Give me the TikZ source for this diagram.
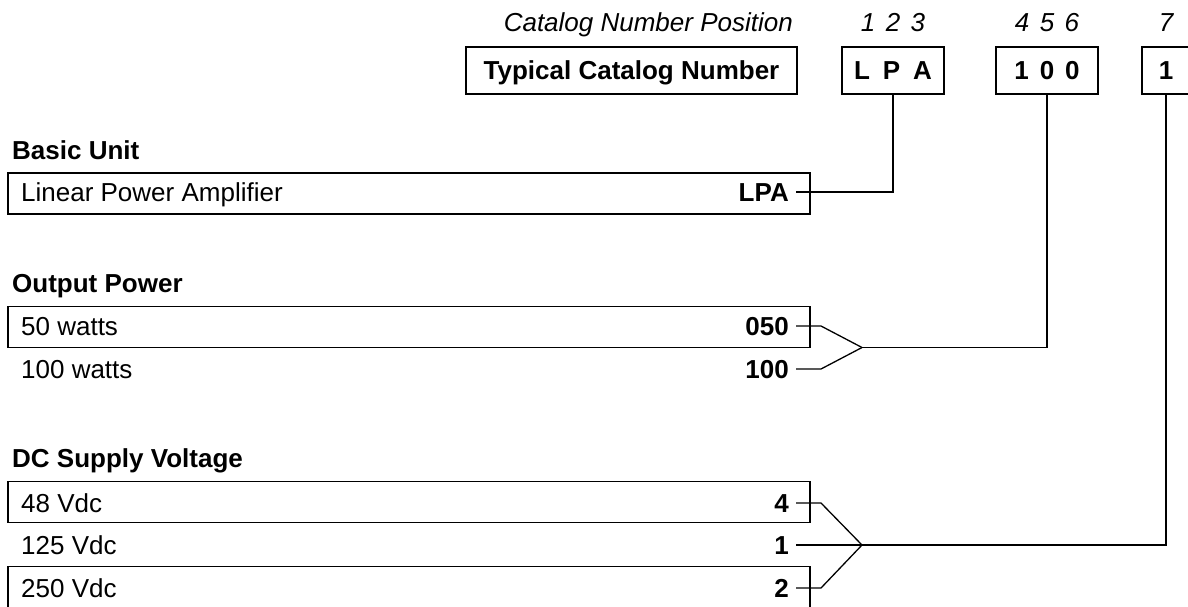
\documentclass[tikz,border=0pt]{standalone}
\usepackage{fontspec}
\setmainfont{Liberation Sans}
\usetikzlibrary{positioning,calc}

\begin{document}
\begin{tikzpicture}[
  x=1pt, y=-1pt,
  txt/.style={inner sep=0pt, text height=18.6pt, text depth=0pt, font=\fontsize{26}{30}\selectfont},
  heading/.style={txt, anchor=south west, font=\fontsize{26}{30}\selectfont\bfseries},
  posnum/.style={txt, font=\fontsize{26}{30}\selectfont\itshape},
  catbox/.style={txt, draw, line width=1.4pt, minimum height=47pt, font=\fontsize{26}{30}\selectfont\bfseries},
  rowbox/.style={draw, line width=1.4pt, minimum width=802pt, minimum height=41pt, inner sep=0pt},
  desc/.style={txt, anchor=west},
  code/.style={txt, anchor=east, inner xsep=7pt, font=\fontsize{26}{30}\selectfont\bfseries},
  wire/.style={line width=1.3pt}
]
\useasboundingbox (0,0) rectangle (1188,606);

% typical catalog number
\node[catbox, minimum width=331pt] (typ) at (631.5,70.5) {Typical Catalog Number};
\node[catbox, minimum width=102pt] (cn1) at (893,70.5) {L\hspace{0.5em}P\hspace{0.5em}A};
\node[catbox, minimum width=102pt] (cn2) at (1047,70.5) {1\hspace{0.42em}0\hspace{0.42em}0};
\node[catbox, minimum width=48pt] (cn3) at (1166,70.5) {1};

\node[posnum, anchor=south east] (cnpos) at (793,32) {Catalog Number Position};
\foreach \b/\t in {cn1/1\hspace{0.4em}2\hspace{0.4em}3, cn2/4\hspace{0.4em}5\hspace{0.4em}6, cn3/7}
  \node[posnum, above=15pt of \b] {\t};

% basic unit
\node[heading] (buhead) at (12,160) {Basic Unit};
\node[rowbox] (bubox) at (409,193.5) {};
\node[desc] (bu) at (21,192) {Linear Power Amplifier};
\node[code] (lpa) at (796,192) {LPA};
\draw[wire] (lpa.east) -| (cn1.south);

% output power
\node[heading] (ophead) at (12,293) {Output Power};
\node[rowbox] (opbox) at (409,327) {};
\node[desc] (op50) at (21,326) {50 watts};
\node[desc] (op100) at (21,369) {100 watts};
\node[code] (c050) at (796,326) {050};
\node[code] (c100) at (796,369) {100};
\coordinate (opj) at (862,347.5);
\foreach \c in {c050, c100}
  \draw[wire] (\c.east) -- ++(25,0) -- (opj);
\draw[wire] (opj) -| (cn2.south);

% dc supply voltage
\node[heading] (dchead) at (12,468) {DC Supply Voltage};
\node[rowbox] (dcbox1) at (409,502) {};
\node[rowbox] (dcbox2) at (409,587) {};
\node[desc] (dc48) at (21,503) {48 Vdc};
\node[desc] (dc125) at (21,545) {125 Vdc};
\node[desc] (dc250) at (21,588) {250 Vdc};
\node[code] (c4) at (796,503) {4};
\node[code] (c1) at (796,545) {1};
\node[code] (c2) at (796,588) {2};
\coordinate (dcj) at (862,545);
\foreach \c in {c4, c2}
  \draw[wire] (\c.east) -- ++(25,0) -- (dcj);
\draw[wire] (c1.east) -- (dcj);
\draw[wire] (dcj) -| (cn3.south);

\end{tikzpicture}
\end{document}
